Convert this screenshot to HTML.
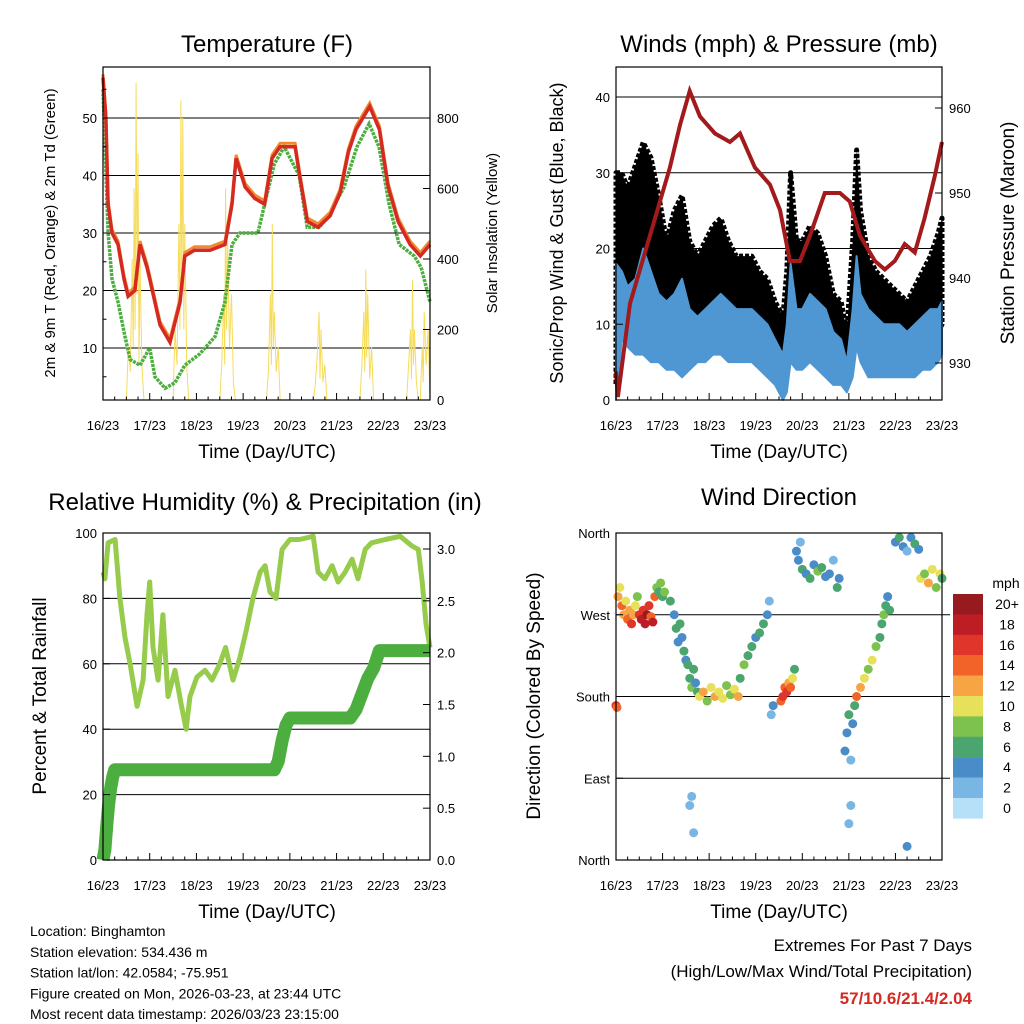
<!DOCTYPE html>
<html><head><meta charset="utf-8"><style>
body{margin:0;background:#fff;}
svg{display:block;font-family:"Liberation Sans",sans-serif;}
</style></head><body>
<svg id="root" width="1024" height="1024" viewBox="0 0 1024 1024" xmlns="http://www.w3.org/2000/svg"></svg>
<script>
// ---------- DATA ----------
const dayLabels = ["16/23","17/23","18/23","19/23","20/23","21/23","22/23","23/23"];
const tempH = [0,1.5,2.6,4.6,7.7,10.8,12.9,16.4,19,22.6,24,29.3,34.4,39.6,42,47,55,62.7,66.3,68.4,73,78,83,86.9,91,98.7,101,105,110.5,116.7,121.8,126,130,137,142,146.5,151.6,157.8,163,168];
const tempV = [57,50,35,30,28,22,19,20,28,24,22,14,11,18,26,27,27,28,35,43,38,36,35,43,45,45,40,32,31,33,37,44,48,52,48,38,32,28,26,28];
const dewH = [0,2.6,4.6,7.7,11.3,13.9,19,24,26.7,31.9,37,42,49.8,57.6,62.7,66.3,70.4,79.6,83,88,93.1,100.8,104.9,111,116.1,123.8,130.5,136.7,141.8,147,152.2,159.9,163.5,168];
const dewV = [55,30,22,18,12,8,7,10,5,3,4,7,9,12,18,28,30,30,35,42,45,40,31,31,33,38,45,49,45,35,28,26,24,18];
const solarH = [12,13,14,15,15.5,16,16.5,17,17.5,18,18.5,19,20,21, 36,37,38,39,39.5,40,40.5,41,41.5,42,43,44, 60,61,62,62.5,63,63.5,64,65,66,67,68, 84,85,86,86.5,87,87.5,88,89,90,91, 108,109,110,111,111.5,112,113,114,115, 132,133,134,134.5,135,135.5,136,137,138,139, 156,157,158,158.5,159,159.5,160,161,162,163,164,164.5,165,166,167,168];
const solarV = [0,150,80,400,150,600,200,900,300,700,100,400,100,0, 0,200,100,500,200,850,300,800,200,500,100,0, 0,100,300,100,600,200,450,150,300,50,0, 0,80,300,100,500,150,250,80,150,0, 0,40,120,250,60,200,50,100,0, 0,100,250,80,370,120,300,60,150,0, 0,100,200,60,340,100,200,50,0,0,150,50,250,100,200,0];
const windH = [0,3,6,10,14,18,22,26,30,34,38,42,46,50,54,58,62,66,70,74,78,82,86,88,90,93,96,100,104,108,112,116,119,122,124,126,130,134,138,142,146,150,154,158,162,166,168];
const gustHigh = [30,30,28,31,34,32,27,21,25,27,21,19,21,23,24,21,19,19,19,17,16,13,11,17,30,21,21,23,22,19,14,13,9,21,33,25,19,17,16,15,14,13,15,17,19,22,24];
const gustLow = [2,18,14,12,12,11,10,8,7,6,7,8,10,12,11,10,10,9,9,8,6,5,2,3,10,8,8,9,8,6,4,3,2,6,12,9,6,5,5,6,6,6,6,7,7,9,10];
const windHigh = [18,17,15,16,20,17,14,13,14,16,12,11,12,13,14,13,12,12,12,11,10,8,6,10,18,12,12,14,13,12,9,8,5,12,19,14,12,11,10,10,10,9,10,11,12,12,13];
const windLow = [0,8,7,6,6,5,5,4,4,3,4,5,5,6,6,5,5,5,5,4,3,2,0,1,5,4,4,5,4,3,2,2,1,3,7,5,3,3,3,3,3,3,3,4,4,5,6];
const presH = [0,1,7.2,17.5,27.8,33,38,43.3,51,58.7,63.9,71.6,79.3,84.5,89.6,94.8,100,107.6,115.4,120.5,125.7,133.4,138.5,143.7,148.8,154,159,164.3,168];
const presV = [929,926,937,945,953,958,962,959,957,956,957,953,951,948,942,942,945,950,950,949,945,942,941,942,944,943,947,952,956];
const rhH = [0,1,2.6,6.2,8.7,11.3,13.9,17.5,20.6,22.6,24,25.7,28.3,30.8,33.4,37,40,42.7,44.7,48.3,52.4,56,60,63,66.8,70.4,73.5,77,80.7,83.3,85.8,88.9,92,96,101,108,110.5,114,117.7,120.8,124.4,128,131,134.7,138,145,152.7,158.8,162,164,166,168];
const rhV = [88,86,97,98,80,68,60,47,55,75,85,65,55,75,50,58,48,40,50,56,58,55,60,65,55,62,70,80,88,90,82,80,95,98,98,99,88,86,90,85,88,92,86,95,97,98,99,96,95,85,72,65];
const precipH = [0,1,2,3,4,5,6,24,88,90,92,94,96,127,130,133,136,139,142,168];
const precipV = [0,0.1,0.35,0.55,0.7,0.8,0.87,0.87,0.87,0.95,1.15,1.3,1.37,1.37,1.45,1.6,1.75,1.85,2.02,2.02];
const dirH = [0,0.5, 1,2,3,4,5,6,7,8,9,10,11, 12,13,14,15,16,17,18,19,20,21,22,23,24, 25,28,30,31,32,33,34,35,36,37,38,39,40,41,42, 38,39,40, 43,45,47,49,51,53,55,57,59,61,63, 64,66,68,70,72,74,76,78,79, 80,81, 85,86,87,88,89,90,91,92, 93,94,95, 96,98,100,102,104,106,108,110,112,114,115, 118,119,120,121,122,123, 120,121, 124,126,128,130,132,134,136, 137,138,139,140,141, 144,146,148,150,152,154,156, 150, 157,159,161,163,165,167,168];
const dirD = [170,168, 290,300,280,270,285,265,275,260,270,280,290, 270,265,275,260,270,280,268,262,290,300,295,305,290, 295,285,270,255,240,260,245,230,220,215,200,190,210,195,185, 60,70,30, 180,185,175,190,180,185,178,192,182,188,180, 200,215,225,235,245,250,260,270,285, 160,170, 175,180,190,185,195,190,200,210, 340,330,350, 320,315,310,325,318,322,312,315,330,300,310, 120,140,160,110,150,170, 40,60, 180,190,200,210,220,235,245, 260,270,280,290,275, 350,355,345,340,355,348,342, 15, 310,315,305,320,300,315,310];
const dirS = [16,14, 12,10,14,12,10,14,12,16,12,10,8, 16,18,16,18,20,16,14,18,14,8,6,8,6, 8,6,4,6,4,6,4,6,4,6,6,8,6,4,6, 2,2,2, 10,12,8,10,12,10,11,9,8,10,12, 6,8,6,6,4,6,6,4,2, 2,4, 14,16,14,16,12,14,10,6, 4,4,2, 6,4,6,4,8,6,4,4,2,6,4, 4,4,6,2,4,6, 2,2, 14,12,10,8,10,8,6, 6,8,6,4,6, 4,6,4,2,4,6,4, 4, 10,8,12,10,8,10,6];
const cbLabels = ["20+","18","16","14","12","10","8","6","4","2","0"];
const cbColors = ["#961a1e","#bd1d24","#e0352a","#f26329","#f7a544","#e6e05a","#7dc24f","#4ba56e","#4a8cc7","#7ab6e3","#b5e0f7"];

// ---------- HELPERS ----------
const NS="http://www.w3.org/2000/svg";
const root=document.getElementById('root');
function mk(tag,attrs,parent){const e=document.createElementNS(NS,tag);for(const k in attrs)e.setAttribute(k,attrs[k]);(parent||root).appendChild(e);return e;}
function txt(s,x,y,size,anchor,parent,extra){const t=mk('text',Object.assign({x:x,y:y,'font-size':size,'text-anchor':anchor||'middle',fill:'#000'},extra||{}),parent);t.textContent=s;return t;}
function lin(d0,d1,p0,p1){return v=>p0+(v-d0)/(d1-d0)*(p1-p0);}
function pathOf(xs,ys,fx,fy){let d='';for(let i=0;i<xs.length;i++)d+=(i?'L':'M')+fx(xs[i]).toFixed(1)+','+fy(ys[i]).toFixed(1);return d;}
function bandOf(xs,hi,lo,fx,fy){let d='';for(let i=0;i<xs.length;i++)d+=(i?'L':'M')+fx(xs[i]).toFixed(1)+','+fy(hi[i]).toFixed(1);for(let i=xs.length-1;i>=0;i--)d+='L'+fx(xs[i]).toFixed(1)+','+fy(lo[i]).toFixed(1);return d+'Z';}
function colorFor(s){let idx=Math.min(10,Math.floor(s/2));return cbColors[10-idx];}

function frame(g,x0,x1,y0,y1){
  const r=mk('rect',{x:x0,y:y0,width:x1-x0,height:y1-y0,fill:'none',stroke:'#000','stroke-width':1.2},g);
  
  
}
function xAxis(g,x0,x1,y1,labY){
  const fx=lin(0,168,x0,x1);
  for(let i=0;i<dayLabels.length;i++){
    const x=fx(i*24);
    mk('line',{x1:x,y1:y1,x2:x,y2:y1-7,stroke:'#000'},g);
    const t=txt(dayLabels[i],x,labY,13,'middle',g);
    
    
  }
  for(let h=6;h<168;h+=6){ if(h%24===0)continue; const x=fx(h); mk('line',{x1:x,y1:y1,x2:x,y2:y1-3.5,stroke:'#000'},g);}
  return fx;
}

// ---------- PANEL 1: TEMPERATURE ----------
(function(){
  const g=mk('g',{});
  
  
  const x0=103,x1=430,y0=67,y1=400;
  const fy=lin(10,50,348,118);
  const fs=lin(0,800,400,118);
  const fx=lin(0,168,x0,x1);
  [10,20,30,40,50].forEach(v=>{const l=mk('line',{x1:x0,x2:x1,y1:fy(v),y2:fy(v),stroke:'#000','stroke-width':1},g);});
  const sp=mk('path',{d:pathOf(solarH,solarV,fx,fs),fill:'none',stroke:'#f6dc5a','stroke-width':1},g);
  
  
  const dp=mk('path',{d:pathOf(dewH,dewV,fx,fy),fill:'none',stroke:'#4cae3e','stroke-width':3.5,'stroke-dasharray':'3 1'},g);
  
  
  const op=mk('path',{d:pathOf(tempH,tempV.map(v=>v+0.6),fx,fy),fill:'none',stroke:'#f08a30','stroke-width':3},g);
  
  
  const tp=mk('path',{d:pathOf(tempH,tempV,fx,fy),fill:'none',stroke:'#d42a22','stroke-width':3.5},g);
  
  
  frame(g,x0,x1,y0,y1);
  xAxis(g,x0,x1,y1,430);
  [10,20,30,40,50].forEach(v=>{mk('line',{x1:x0,x2:x0+7,y1:fy(v),y2:fy(v),stroke:'#000'},g);const t=txt(String(v),x0-6,fy(v)+5,13,'end',g);});
  for(let v=5;v<=55;v+=10)mk('line',{x1:x0,x2:x0+3.5,y1:fy(v),y2:fy(v),stroke:'#000'},g);
  [0,200,400,600,800].forEach(v=>{mk('line',{x1:x1,x2:x1-7,y1:fs(v),y2:fs(v),stroke:'#000'},g);const t=txt(String(v),x1+7,fs(v)+5,13,'start',g);});
  let t=txt('Temperature (F)',267,52,24,'middle',g);
  t=txt('Time (Day/UTC)',267,458,19,'middle',g);
  t=txt('2m & 9m T (Red, Orange) & 2m Td (Green)',0,0,15,'middle',g,{transform:'translate(55,233) rotate(-90)'});
  t=txt('Solar Insolation (Yellow)',0,0,15,'middle',g,{transform:'translate(497,233) rotate(-90)'});
})();

// ---------- PANEL 2: WINDS ----------
(function(){
  const g=mk('g',{});
  
  
  const x0=616,x1=942,y0=67,y1=400;
  const fy=lin(0,40,400,97);
  const fp=lin(930,960,363,108);
  const fx=lin(0,168,x0,x1);
  [10,20,30,40].forEach(v=>{const l=mk('line',{x1:x0,x2:x1,y1:fy(v),y2:fy(v),stroke:'#000'},g);});
  const gb=mk('path',{d:bandOf(windH,gustHigh,gustLow,fx,fy),fill:'#000',stroke:'#000','stroke-width':5,'stroke-linejoin':'round','stroke-dasharray':'4 2'},g);
  
  
  const wb=mk('path',{d:bandOf(windH,windHigh,windLow,fx,fy),fill:'#4f97d3',stroke:'#4f97d3','stroke-width':2,'stroke-linejoin':'round'},g);
  
  
  const pp=mk('path',{d:pathOf(presH,presV,fx,fp),fill:'none',stroke:'#a31a1c','stroke-width':4},g);
  
  
  frame(g,x0,x1,y0,y1);
  xAxis(g,x0,x1,y1,430);
  [0,10,20,30,40].forEach(v=>{mk('line',{x1:x0,x2:x0+7,y1:fy(v),y2:fy(v),stroke:'#000'},g);const t=txt(String(v),x0-6,fy(v)+5,13,'end',g);});
  [930,940,950,960].forEach(v=>{mk('line',{x1:x1,x2:x1-7,y1:fp(v),y2:fp(v),stroke:'#000'},g);const t=txt(String(v),x1+7,fp(v)+5,13,'start',g);});
  let t=txt('Winds (mph) & Pressure (mb)',779,52,24,'middle',g);
  t=txt('Time (Day/UTC)',779,458,19,'middle',g);
  t=txt('Sonic/Prop Wind & Gust (Blue, Black)',0,0,18,'middle',g,{transform:'translate(563,233) rotate(-90)'});
  t=txt('Station Pressure (Maroon)',0,0,19,'middle',g,{transform:'translate(1014,233) rotate(-90)'});
})();

// ---------- PANEL 3: RH & PRECIP ----------
(function(){
  const g=mk('g',{});
  
  
  const x0=103,x1=430,y0=533,y1=860;
  const fy=lin(0,100,860,533);
  const fr=lin(0,3,860,549);
  const fx=lin(0,168,x0,x1);
  [20,40,60,80].forEach(v=>{const l=mk('line',{x1:x0,x2:x1,y1:fy(v),y2:fy(v),stroke:'#000'},g);});
  const rp=mk('path',{d:pathOf(rhH,rhV,fx,fy),fill:'none',stroke:'#97cb4b','stroke-width':5,'stroke-linejoin':'round'},g);
  
  
  const pp=mk('path',{d:pathOf(precipH,precipV,fx,fr),fill:'none',stroke:'#4cae3e','stroke-width':13,'stroke-linejoin':'round'},g);
  
  
  frame(g,x0,x1,y0,y1);
  xAxis(g,x0,x1,y1,890);
  [0,20,40,60,80,100].forEach(v=>{mk('line',{x1:x0,x2:x0+7,y1:fy(v),y2:fy(v),stroke:'#000'},g);const t=txt(String(v),x0-6,fy(v)+5,13,'end',g);});
  ["0.0","0.5","1.0","1.5","2.0","2.5","3.0"].forEach(s=>{const v=parseFloat(s);mk('line',{x1:x1,x2:x1-7,y1:fr(v),y2:fr(v),stroke:'#000'},g);const t=txt(s,x1+7,fr(v)+5,13,'start',g);});
  let t=txt('Relative Humidity (%) & Precipitation (in)',265,510,24,'middle',g);
  t=txt('Time (Day/UTC)',267,918,19,'middle',g);
  t=txt('Percent & Total Rainfall',0,0,19,'middle',g,{transform:'translate(46,696) rotate(-90)'});
})();

// ---------- PANEL 4: WIND DIRECTION ----------
(function(){
  const g=mk('g',{});
  
  
  const x0=616,x1=942,y0=533,y1=860;
  const fy=lin(0,360,860,533);
  const fx=lin(0,168,x0,x1);
  [90,180,270].forEach(v=>{const l=mk('line',{x1:x0,x2:x1+8,y1:fy(v),y2:fy(v),stroke:'#000'},g);});
  for(let i=0;i<dirH.length;i++){
    const c=mk('circle',{cx:fx(dirH[i]),cy:fy(dirD[i]),r:4.5,fill:colorFor(dirS[i])},g);
    
    
  }
  frame(g,x0,x1,y0,y1);
  xAxis(g,x0,x1,y1,890);
  [["North",0],["East",90],["South",180],["West",270],["North",360]].forEach(p=>{mk('line',{x1:x0,x2:x0+7,y1:fy(p[1]),y2:fy(p[1]),stroke:'#000'},g);const t=txt(p[0],x0-6,fy(p[1])+5,13,'end',g);});
  let t=txt('Wind Direction',779,505,24,'middle',g);
  t=txt('Time (Day/UTC)',779,918,19,'middle',g);
  t=txt('Direction (Colored By Speed)',0,0,19,'middle',g,{transform:'translate(540,696) rotate(-90)'});
  const cb=mk('g',{},g);
  
  
  t=txt('mph',1006,588,14,'middle',cb);
  for(let i=0;i<cbLabels.length;i++){
    const y=594+i*20.4;
    const r=mk('rect',{x:953,y:y,width:30,height:20.6,fill:cbColors[i]},cb);
    
    
    const l=txt(cbLabels[i],1007,y+15,14,'middle',cb);
    
    
  }
})();

// ---------- FOOTER TEXT ----------
(function(){
  const g=mk('g',{});
  
  
  const lines=["Location: Binghamton","Station elevation: 534.436 m","Station lat/lon: 42.0584; -75.951","Figure created on Mon, 2026-03-23, at 23:44 UTC","Most recent data timestamp: 2026/03/23 23:15:00"];
  lines.forEach((s,i)=>{const t=txt(s,30,936+i*20.8,14,'start',g);});
  const g2=mk('g',{});
  
  
  let t=txt('Extremes For Past 7 Days',972,951,17,'end',g2);
  t=txt('(High/Low/Max Wind/Total Precipitation)',972,977,17,'end',g2);
  t=txt('57/10.6/21.4/2.04',972,1004,17,'end',g2,{fill:'#d42a22','font-weight':'bold'});
})();
</script>
</body></html>
